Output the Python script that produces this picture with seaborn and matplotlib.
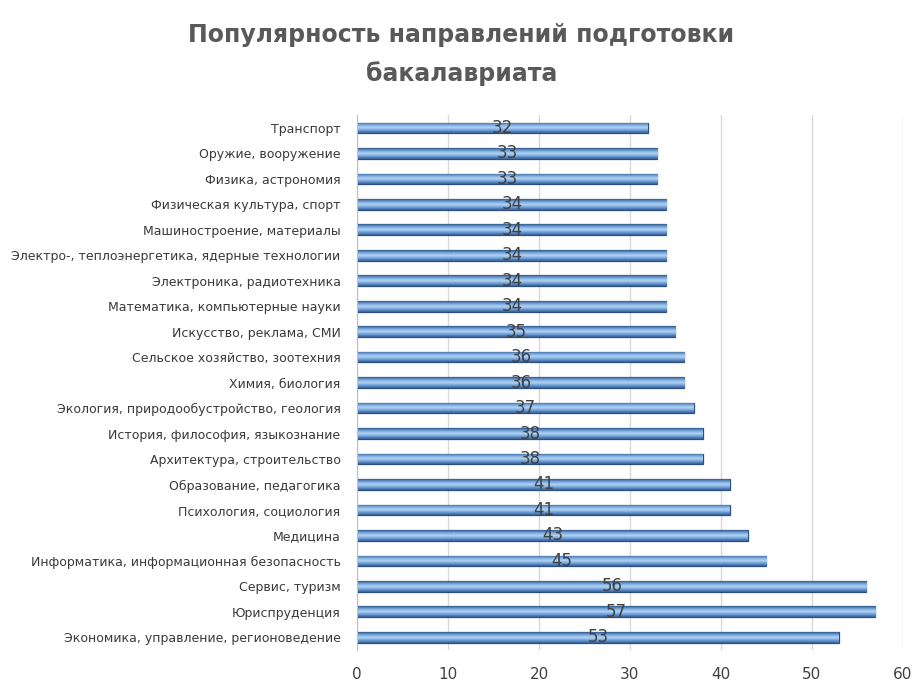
import numpy as np
import pandas as pd
import matplotlib
matplotlib.use("Agg")
import matplotlib.pyplot as plt
from matplotlib.colors import LinearSegmentedColormap
import seaborn as sns

categories = [
    "Транспорт",
    "Оружие, вооружение",
    "Физика, астрономия",
    "Физическая культура, спорт",
    "Машиностроение, материалы",
    "Электро-, теплоэнергетика, ядерные технологии",
    "Электроника, радиотехника",
    "Математика, компьютерные науки",
    "Искусство, реклама, СМИ",
    "Сельское хозяйство, зоотехния",
    "Химия, биология",
    "Экология, природообустройство, геология",
    "История, философия, языкознание",
    "Архитектура, строительство",
    "Образование, педагогика",
    "Психология, социология",
    "Медицина",
    "Информатика, информационная безопасность",
    "Сервис, туризм",
    "Юриспруденция",
    "Экономика, управление, регионоведение",
]
values = [32, 33, 33, 34, 34, 34, 34, 34, 35, 36, 36, 37, 38, 38, 41, 41, 43, 45, 56, 57, 53]

df = pd.DataFrame({"category": categories, "value": values})

sns.set_style("white")
plt.rcParams["font.family"] = ["DejaVu Sans"]

fig = plt.figure(figsize=(9.23, 6.9), dpi=100)
ax = fig.add_axes([0.387, 0.058, 0.591, 0.775])

sns.barplot(data=df, x="value", y="category", orient="h", color="#5b8fd0",
            width=0.42, edgecolor="#2a4f80", linewidth=0.9, ax=ax)

# gradient fill like the original bevelled bars
grad = LinearSegmentedColormap.from_list(
    "bev", ["#2f5a8e", "#79a8de", "#b3d4f4", "#6e9fd8", "#365f96"])
g = np.linspace(0, 1, 64).reshape(-1, 1)
for p in ax.patches:
    x0, y0 = p.get_x(), p.get_y()
    w, h = p.get_width(), p.get_height()
    im = ax.imshow(g, extent=(x0, x0 + w, y0 + h, y0), aspect="auto",
                   cmap=grad, zorder=p.get_zorder() + 0.1, interpolation="bilinear")
    im.set_clip_path(p)

for i, v in enumerate(values):
    ax.text(v / 2, i, str(v), ha="center", va="center", fontsize=12, color="#404040", zorder=5)

ax.set_xlim(0, 60)
ax.set_ylim(len(categories) - 0.5, -0.5)
ax.set_xticks(range(0, 61, 10))
ax.grid(axis="x", color="#d9d9d9", linewidth=1)
ax.set_axisbelow(True)
for s in ["top", "right", "bottom"]:
    ax.spines[s].set_visible(False)
ax.spines["left"].set_color("#bfbfbf")
ax.tick_params(axis="y", length=4, color="#bfbfbf", labelsize=9, labelcolor="#3a3a3a", pad=8)
ax.tick_params(axis="x", length=0, labelsize=11, labelcolor="#404040", pad=12)
ax.set_xlabel("")
ax.set_ylabel("")

fig.text(0.5, 0.875, "Популярность направлений подготовки\nбакалавриата", ha="center",
         va="bottom", fontsize=17, fontweight="bold", color="#595959", linespacing=1.75)

fig.savefig("out.png", dpi=100)
